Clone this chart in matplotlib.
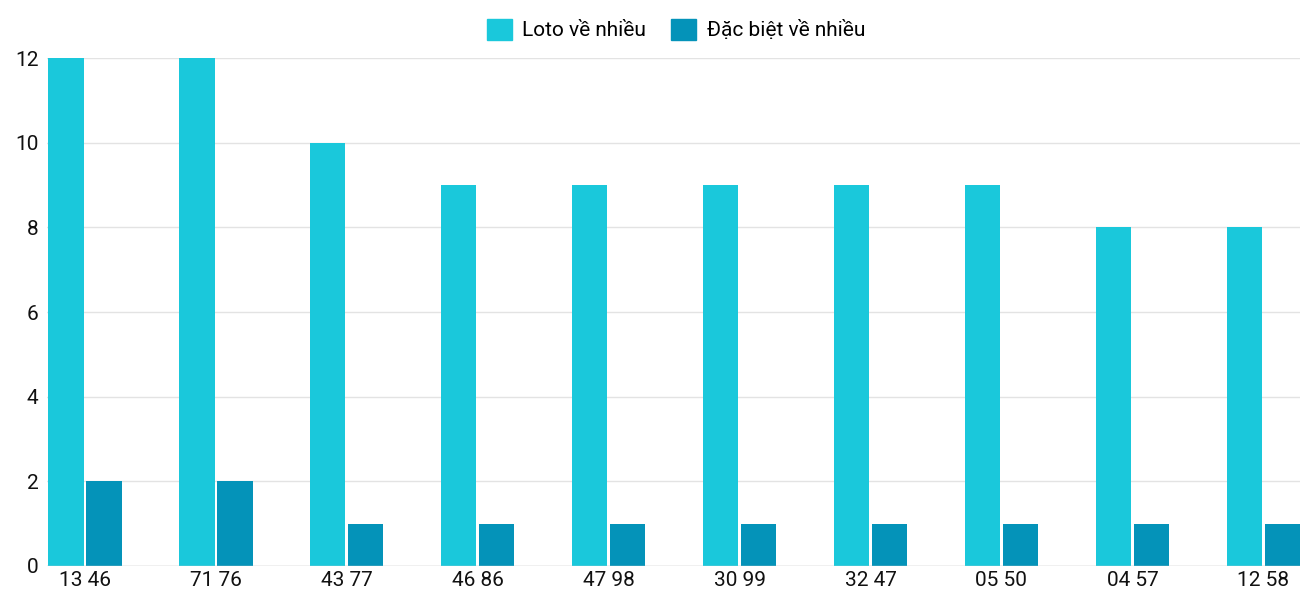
import numpy as np
import matplotlib.pyplot as plt
from matplotlib.patches import Patch

plt.rcParams['font.family'] = ['Roboto', 'DejaVu Sans']

categories = ['13 46', '71 76', '43 77', '46 86', '47 98', '30 99', '32 47', '05 50', '04 57', '12 58']
loto = [12, 12, 10, 9, 9, 9, 9, 9, 8, 8]
dac_biet = [2, 2, 1, 1, 1, 1, 1, 1, 1, 1]

c_loto = '#1ac8db'
c_db = '#0493b9'

fig = plt.figure(figsize=(13, 6), dpi=100)
ax = fig.add_axes([0.036, 0.057, 0.964, 0.846])

x = np.arange(len(categories))
w = 0.272
ax.bar(x - 0.145, loto, w, color=c_loto, zorder=3)
ax.bar(x + 0.145, dac_biet, w, color=c_db, zorder=3)

ax.set_xlim(-0.29, len(categories) - 1 + 0.28)
ax.set_ylim(0, 12)
ax.set_yticks(range(0, 13, 2))
ax.set_xticks(x)
ax.set_xticklabels(categories)
ax.tick_params(axis='both', length=0, labelsize=15, colors='#111111')
ax.tick_params(axis='y', pad=6)
ax.grid(axis='y', color='#e3e3e3', linewidth=1, zorder=0)
for s in ax.spines.values():
    s.set_visible(False)
ax.axhline(0, color='#cccccc', linewidth=1, zorder=4)

handles = [Patch(color=c_loto, label='Loto về nhiều'), Patch(color=c_db, label='Đặc biệt về nhiều')]
fig.legend(handles=handles, loc='upper center', bbox_to_anchor=(0.52, 1.0), ncol=2, frameon=False,
           fontsize=15, handlelength=1.2, handleheight=1.2, columnspacing=1.2, handletextpad=0.5)

fig.savefig('out.png', dpi=100)
